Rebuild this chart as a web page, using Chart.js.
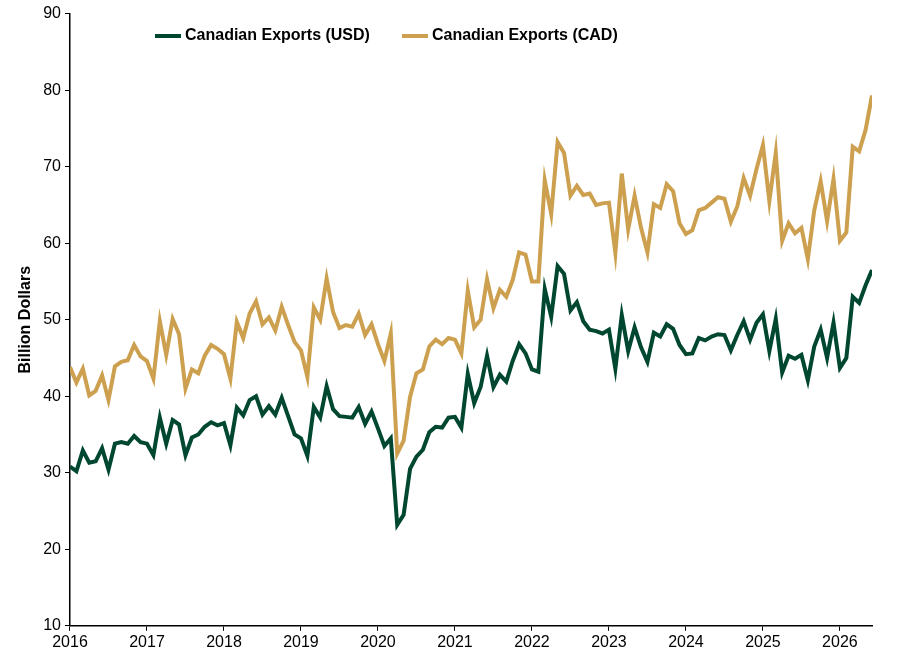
<!DOCTYPE html>
<html>
<head>
<meta charset="utf-8">
<script src="https://cdn.jsdelivr.net/npm/chart.js@4"></script>
<style>
  body { margin: 0; background: #fff; }
  #wrap { position: relative; width: 900px; height: 654px; }
  #legend { position: absolute; top: 26px; left: 155px; font: bold 16px "Liberation Sans", Arial, sans-serif; color: #000; display: flex; gap: 32px; }
  #legend span.sw { display: inline-block; width: 26px; height: 4px; vertical-align: middle; margin-right: 4px; }
</style>
</head>
<body>
<div id="wrap">
  <canvas id="chart" width="900" height="654"></canvas>
  <div id="legend">
    <div><span class="sw" style="background:#004731"></span>Canadian Exports (USD)</div>
    <div><span class="sw" style="background:#CDA04F"></span>Canadian Exports (CAD)</div>
  </div>
</div>
<script>
const startYear = 2016;
const yearTicks = [2016, 2017, 2018, 2019, 2020, 2021, 2022, 2023, 2024, 2025, 2026];
const usd = [
  30.8, 30.2, 32.9, 31.3, 31.5, 33.2, 30.4, 33.8, 34.0, 33.8, 34.8, 34.0,
  33.8, 32.3, 37.2, 33.8, 36.9, 36.3, 32.3, 34.6, 35.0, 36.0, 36.6, 36.2,
  36.5, 33.6, 38.5, 37.5, 39.5, 40.0, 37.6, 38.7, 37.6, 39.8, 37.4, 35.0,
  34.5, 32.2, 38.6, 37.2, 41.3, 38.3, 37.4, 37.3, 37.2, 38.6, 36.4, 38.0,
  35.8, 33.5, 34.5, 23.2, 24.5, 30.5, 32.1, 33.0, 35.3, 36.0, 35.9, 37.2,
  37.3, 35.9, 42.9, 39.1, 41.2, 45.3, 41.2, 42.8, 41.9, 44.6, 46.8, 45.6,
  43.5, 43.2, 54.0, 50.4, 57.0, 56.0, 51.2, 52.3, 49.8, 48.7, 48.5, 48.2,
  48.7, 43.6, 50.6, 45.9, 49.0, 46.4, 44.5, 48.3, 47.8, 49.4, 48.8, 46.7,
  45.5, 45.6, 47.6, 47.3, 47.8, 48.1, 48.0, 46.0, 48.0, 49.8, 47.4, 49.6,
  50.7, 45.9, 50.1, 43.1, 45.3, 44.9, 45.4, 42.1, 46.5, 48.7, 45.0, 49.6,
  43.7, 45.0, 53.0, 52.2, 54.5, 56.5
];
const cad = [
  43.8, 41.8, 43.6, 40.1, 40.7, 42.7, 39.5, 43.9, 44.5, 44.7, 46.7, 45.2,
  44.6, 42.3, 49.8, 45.4, 50.1, 48.1, 41.0, 43.5, 43.0, 45.3, 46.7, 46.2,
  45.5, 42.3, 49.7, 47.6, 50.8, 52.4, 49.4, 50.3, 48.6, 51.7, 49.3, 47.1,
  46.0, 42.5, 51.6, 50.0, 55.4, 51.0, 48.9, 49.3, 49.1, 50.8, 48.0, 49.4,
  46.8, 44.6, 48.2, 32.5, 34.2, 39.9, 43.0, 43.5, 46.5, 47.4, 46.8, 47.6,
  47.4, 45.6, 53.8, 49.0, 50.0, 55.3, 51.5, 53.9, 53.0, 55.2, 58.8, 58.5,
  55.0, 55.0, 68.2, 63.8, 73.2, 71.8, 66.2, 67.5, 66.3, 66.5, 65.0, 65.2,
  65.3, 58.7, 69.1, 61.8, 66.2, 62.0, 58.8, 65.1, 64.6, 67.7, 66.8, 62.6,
  61.2, 61.7, 64.3, 64.6, 65.3, 66.0, 65.8, 62.8, 64.8, 68.5, 66.2, 69.7,
  72.8, 65.5, 71.8, 60.3, 62.6, 61.3, 62.0, 57.9, 64.3, 68.1, 62.9, 68.4,
  60.3, 61.4, 72.6, 72.0, 74.8, 79.3
];
const toPoints = arr => arr.map((v, i) => ({ x: startYear + i / 12, y: v }));

const font = { family: '"Liberation Sans", Arial, sans-serif', size: 16 };
new Chart(document.getElementById('chart').getContext('2d'), {
  type: 'line',
  data: {
    datasets: [
      { label: 'Canadian Exports (USD)', data: toPoints(usd), borderColor: '#004731', borderWidth: 4, pointRadius: 0, tension: 0 },
      { label: 'Canadian Exports (CAD)', data: toPoints(cad), borderColor: '#CDA04F', borderWidth: 4, pointRadius: 0, tension: 0 }
    ]
  },
  options: {
    responsive: false,
    animation: false,
    layout: { padding: { top: 11, right: 28, bottom: 0, left: 12 } },
    plugins: { legend: { display: false }, tooltip: { enabled: false } },
    scales: {
      x: {
        type: 'linear', min: 2016, max: 2016 + 125 / 12,
        afterBuildTicks: axis => { axis.ticks = yearTicks.map(v => ({ value: v })); },
        ticks: { color: '#000', font: font, callback: v => String(v), maxRotation: 0, autoSkip: false, padding: 2 },
        grid: { drawOnChartArea: false, tickLength: 5, color: '#000' },
        border: { color: '#000', width: 1.5 }
      },
      y: {
        min: 10, max: 90,
        ticks: { stepSize: 10, color: '#000', font: font, padding: 4 },
        grid: { drawOnChartArea: false, tickLength: 5, color: '#000' },
        border: { color: '#000', width: 1.5 },
        title: { display: true, text: 'Billion Dollars', color: '#000', font: { family: font.family, size: 16, weight: 'bold' } }
      }
    }
  }
});
</script>
</body>
</html>
